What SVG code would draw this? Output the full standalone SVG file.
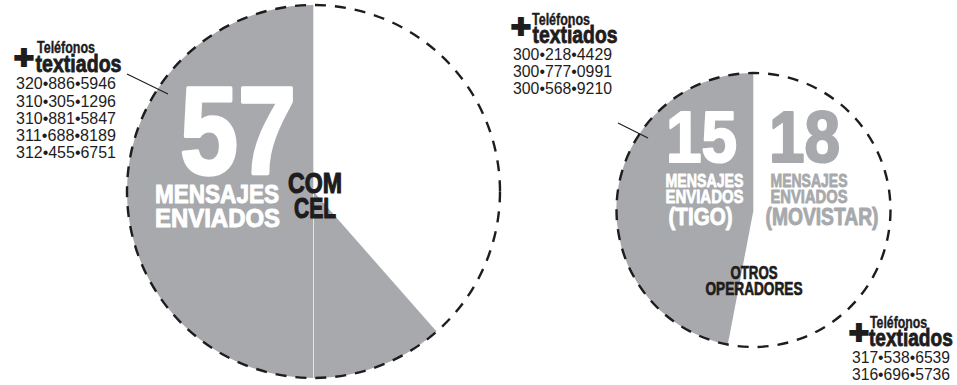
<svg xmlns="http://www.w3.org/2000/svg" width="957" height="385" viewBox="0 0 957 385">
<style>
text{font-family:"Liberation Sans",Arial,sans-serif}
.b{font-weight:bold;stroke-linejoin:round}
.w{fill:#ffffff;stroke:#ffffff}
.g{fill:#a7a9ac;stroke:#a7a9ac}
.k{fill:#1e1c1d;stroke:#1e1c1d}
.slice{fill:#a7a9ac}
.ring{fill:none;stroke:#1e1c1d;stroke-width:2.4;stroke-dasharray:11 9}
.div{stroke:#e4e4e4;stroke-width:1}
.lead{stroke:#1e1c1d;stroke-width:1.1}
.plus{font-weight:bold;fill:#1e1c1d;stroke:#1e1c1d;stroke-width:2.2;text-anchor:middle;font-size:34px}
.tel{font-weight:bold;fill:#1e1c1d;stroke:#1e1c1d;stroke-width:0.4;font-size:16px}
.txd{font-weight:bold;fill:#1e1c1d;stroke:#1e1c1d;stroke-width:0.8;font-size:23px}
.ph{fill:#1e1c1d;font-size:16px}
</style>

<g id="pie-comcel">
  <path class="slice" d="M313.5,191.5 L436.6,331.6 A186.5,186.5 0 1 1 313.5,5 Z"/>
  <line class="div" x1="313.5" y1="5" x2="313.5" y2="378"/>
  <text class="b w" x="180" y="173.5" font-size="124" stroke-width="3.5" textLength="116" lengthAdjust="spacingAndGlyphs">57</text>
  <text class="b w" x="155" y="203" font-size="25.5" stroke-width="1" textLength="124" lengthAdjust="spacingAndGlyphs">MENSAJES</text>
  <text class="b w" x="155" y="227" font-size="25.5" stroke-width="1" textLength="125" lengthAdjust="spacingAndGlyphs">ENVIADOS</text>
  <text class="b k" x="288" y="193" font-size="29" stroke-width="1.2" textLength="54" lengthAdjust="spacingAndGlyphs">COM</text>
  <text class="b k" x="294" y="218" font-size="29" stroke-width="1.2" textLength="42" lengthAdjust="spacingAndGlyphs">CEL</text>
  <circle class="ring" cx="313.5" cy="191.5" r="186.5"/>
</g>

<g id="pie-otros">
  <path class="slice" d="M753.5,210 L727.8,344.6 A137,137 0 0 1 753.5,73 Z"/>
  <line class="div" x1="753.5" y1="73" x2="753.5" y2="210"/>
  <text class="b w" x="666" y="161.5" font-size="72" stroke-width="2.2" textLength="71" lengthAdjust="spacingAndGlyphs">15</text>
  <text class="b g" x="769" y="161.5" font-size="72" stroke-width="2.2" textLength="71" lengthAdjust="spacingAndGlyphs">18</text>
  <text class="b w" x="665.5" y="186.5" font-size="19" stroke-width="0.8" textLength="78" lengthAdjust="spacingAndGlyphs">MENSAJES</text>
  <text class="b w" x="665.5" y="202.5" font-size="19" stroke-width="0.8" textLength="78" lengthAdjust="spacingAndGlyphs">ENVIADOS</text>
  <text class="b w" x="668.5" y="224.5" font-size="23" stroke-width="0.9" textLength="64" lengthAdjust="spacingAndGlyphs">(TIGO)</text>
  <text class="b g" x="770.5" y="186.5" font-size="19" stroke-width="0.8" textLength="77" lengthAdjust="spacingAndGlyphs">MENSAJES</text>
  <text class="b g" x="770.5" y="202.5" font-size="19" stroke-width="0.8" textLength="77" lengthAdjust="spacingAndGlyphs">ENVIADOS</text>
  <text class="b g" x="765.5" y="224.5" font-size="23" stroke-width="0.9" textLength="113" lengthAdjust="spacingAndGlyphs">(MOVISTAR)</text>
  <text class="b k" x="730.5" y="278.5" font-size="18" stroke-width="0.7" textLength="47" lengthAdjust="spacingAndGlyphs">OTROS</text>
  <text class="b k" x="705.5" y="295" font-size="18" stroke-width="0.7" textLength="97" lengthAdjust="spacingAndGlyphs">OPERADORES</text>
  <circle class="ring" cx="753.5" cy="210" r="137"/>
</g>

<g id="label-comcel">
  <text class="plus" x="24" y="68.5">+</text>
  <text class="tel" x="37" y="53" textLength="58" lengthAdjust="spacingAndGlyphs">Teléfonos</text>
  <text class="txd" x="35.5" y="71.5" textLength="86" lengthAdjust="spacingAndGlyphs">textiados</text>
  <text class="ph" x="16" y="89.3" textLength="100" lengthAdjust="spacingAndGlyphs">320•886•5946</text>
  <text class="ph" x="16" y="106.5" textLength="100" lengthAdjust="spacingAndGlyphs">310•305•1296</text>
  <text class="ph" x="16" y="123.7" textLength="100" lengthAdjust="spacingAndGlyphs">310•881•5847</text>
  <text class="ph" x="16" y="140.9" textLength="100" lengthAdjust="spacingAndGlyphs">311•688•8189</text>
  <text class="ph" x="16" y="158" textLength="100" lengthAdjust="spacingAndGlyphs">312•455•6751</text>
</g>

<g id="label-tigo">
  <text class="plus" x="521" y="38">+</text>
  <text class="tel" x="532" y="25" textLength="58" lengthAdjust="spacingAndGlyphs">Teléfonos</text>
  <text class="txd" x="532.5" y="43" textLength="85" lengthAdjust="spacingAndGlyphs">textiados</text>
  <text class="ph" x="513" y="60" textLength="99" lengthAdjust="spacingAndGlyphs">300•218•4429</text>
  <text class="ph" x="513" y="77.3" textLength="99" lengthAdjust="spacingAndGlyphs">300•777•0991</text>
  <text class="ph" x="513" y="94.3" textLength="99" lengthAdjust="spacingAndGlyphs">300•568•9210</text>
</g>

<g id="label-otros">
  <text class="plus" x="859" y="343.5">+</text>
  <text class="tel" x="870" y="328" textLength="57" lengthAdjust="spacingAndGlyphs">Teléfonos</text>
  <text class="txd" transform="translate(869 345.5) scale(0.83 1)" x="0" y="0">textiados</text>
  <text class="ph" x="852" y="363" textLength="98" lengthAdjust="spacingAndGlyphs">317•538•6539</text>
  <text class="ph" x="852" y="380" textLength="98" lengthAdjust="spacingAndGlyphs">316•696•5736</text>
</g>

<g id="connectors">
  <line class="lead" x1="127" y1="74" x2="168" y2="94"/>
  <line class="lead" x1="618" y1="123" x2="648" y2="138"/>
</g>
</svg>
